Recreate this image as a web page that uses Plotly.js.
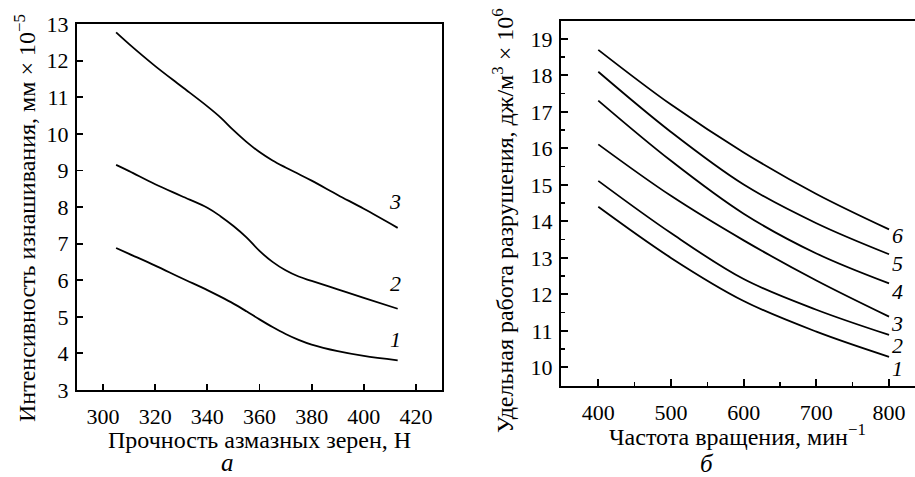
<!DOCTYPE html>
<html>
<head>
<meta charset="utf-8">
<script src="https://cdn.plot.ly/plotly-3.0.1.min.js"></script>
<style>html,body{margin:0;padding:0;background:#fff;}#chart{width:915px;height:477px;}</style>
</head>
<body>
<div id="chart"></div>
<script>
// Chart a: wear intensity vs grain strength
const strengthN = [305,310,320,330,340,345,350,355,360,365,370,375,380,390,400,413];
const wear1 = [6.88,6.72,6.40,6.06,5.73,5.55,5.36,5.15,4.93,4.72,4.53,4.37,4.24,4.06,3.93,3.81];
const wear2 = [9.15,8.98,8.62,8.30,7.98,7.75,7.48,7.17,6.80,6.50,6.27,6.10,5.98,5.75,5.52,5.22];
const wear3 = [12.77,12.45,11.85,11.30,10.75,10.45,10.10,9.78,9.50,9.27,9.08,8.90,8.72,8.33,7.95,7.43];
const wearLabels = ["1","2","3"];

// Chart b: specific fracture work vs rotation frequency
const freq = [400,500,600,700,800];
const work1 = [14.40,13.00,11.82,10.98,10.29];
const work2 = [15.11,13.68,12.42,11.58,10.89];
const work3 = [16.11,14.70,13.48,12.38,11.39];
const work4 = [17.31,15.66,14.21,13.12,12.30];
const work5 = [18.10,16.45,15.01,13.95,13.10];
const work6 = [18.70,17.20,15.89,14.75,13.78];
const workLabels = ["1","2","3","4","5","6"];

const titleA_x = "Прочность азмазных зерен, Н";
const titleA_y = "Интенсивность изнашивания, мм × 10<sup>−5</sup>";
const titleB_x = "Частота вращения, мин<sup>−1</sup>";
const titleB_y = "Удельная работа разрушения, дж/м<sup>3</sup> × 10<sup>6</sup>";
const panelA = "а", panelB = "б";

const FONT = "Liberation Serif";
const lineStyle = {color:"#000", width:1.8, shape:"spline", smoothing:1};

const traces = [];
[wear1,wear2,wear3].forEach((y,i)=>{
  traces.push({x:strengthN, y:y, type:"scatter", mode:"lines", line:lineStyle, xaxis:"x", yaxis:"y", name:wearLabels[i], showlegend:false, hoverinfo:"skip"});
});
[work1,work2,work3,work4,work5,work6].forEach((y,i)=>{
  traces.push({x:freq, y:y, type:"scatter", mode:"lines", line:lineStyle, xaxis:"x2", yaxis:"y2", name:workLabels[i], showlegend:false, hoverinfo:"skip"});
});

const W = 915, H = 477;
const px = v => v / W, py = v => 1 - v / H;

const labelFont = {family:FONT, size:22, color:"#000", style:"italic"};
const titleFont = {family:FONT, size:24, color:"#000"};
const annotations = [];
const wearLabelY = [4.37, 5.92, 8.15];
wearLabels.forEach((t,i)=>annotations.push({x:412, y:wearLabelY[i], xref:"x", yref:"y", text:t, showarrow:false, xanchor:"center", yanchor:"middle", font:labelFont}));
const workLabelY = [9.97, 10.61, 11.21, 12.07, 12.85, 13.6];
workLabels.forEach((t,i)=>annotations.push({x:811, y:workLabelY[i], xref:"x2", yref:"y2", text:t, showarrow:false, xanchor:"center", yanchor:"middle", font:labelFont}));
// axis titles
annotations.push({x:px(259.5), y:py(440), xref:"paper", yref:"paper", text:titleA_x, showarrow:false, xanchor:"center", yanchor:"middle", font:titleFont});
annotations.push({x:px(737), y:py(435), xref:"paper", yref:"paper", text:titleB_x, showarrow:false, xanchor:"center", yanchor:"middle", font:titleFont});
annotations.push({x:px(25), y:py(218), xref:"paper", yref:"paper", text:titleA_y, textangle:-90, showarrow:false, xanchor:"center", yanchor:"middle", font:titleFont});
annotations.push({x:px(503), y:py(221), xref:"paper", yref:"paper", text:titleB_y, textangle:-90, showarrow:false, xanchor:"center", yanchor:"middle", font:titleFont});
// panel letters
annotations.push({x:px(227), y:py(462), xref:"paper", yref:"paper", text:panelA, showarrow:false, xanchor:"center", yanchor:"middle", font:{family:FONT,size:25,color:"#000",style:"italic"}});
annotations.push({x:px(707), y:py(463), xref:"paper", yref:"paper", text:panelB, showarrow:false, xanchor:"center", yanchor:"middle", font:{family:FONT,size:25,color:"#000",style:"italic"}});

const tickFont = {family:FONT, size:22, color:"#000"};

const layout = {
  width:W, height:H,
  margin:{l:0,r:0,t:0,b:0},
  paper_bgcolor:"#fff", plot_bgcolor:"#fff",
  showlegend:false,
  font:{family:FONT, color:"#000"},
  xaxis:{
    domain:[77/W, 442/W], range:[290,430],
    tickvals:[300,320,340,360,380,400,420],
    ticks:"inside", ticklen:6, tickwidth:1.8, tickcolor:"#000",
    showline:true, linewidth:2, linecolor:"#000", mirror:true,
    showgrid:false, zeroline:false, tickfont:tickFont, ticklabelstandoff:6,
    automargin:false
  },
  yaxis:{
    domain:[87/H, 453/H], range:[3,13],
    tickvals:[3,4,5,6,7,8,9,10,11,12,13],
    ticks:"inside", ticklen:6, tickwidth:1.8, tickcolor:"#000",
    showline:true, linewidth:2, linecolor:"#000", mirror:true,
    showgrid:false, zeroline:false, tickfont:tickFont, ticklabelstandoff:2,
    automargin:false
  },
  xaxis2:{
    domain:[561/W, 1], range:[348.7,835.7], anchor:"y2",
    tickvals:[400,500,600,700,800],
    ticks:"inside", ticklen:7, tickwidth:1.8, tickcolor:"#000",
    minor:{dtick:50, tick0:0, ticks:"inside", ticklen:4, tickwidth:1.5, tickcolor:"#000"},
    showline:true, linewidth:2, linecolor:"#000", mirror:true,
    showgrid:false, zeroline:false, tickfont:tickFont, ticklabelstandoff:6,
    automargin:false
  },
  yaxis2:{
    domain:[91/H, 456/H], range:[9.49,19.49], anchor:"x2",
    tickvals:[10,11,12,13,14,15,16,17,18,19],
    ticks:"inside", ticklen:7, tickwidth:1.8, tickcolor:"#000",
    minor:{dtick:0.5, tick0:0, ticks:"inside", ticklen:4, tickwidth:1.5, tickcolor:"#000"},
    showline:true, linewidth:2, linecolor:"#000",
    showgrid:false, zeroline:false, tickfont:tickFont, ticklabelstandoff:2,
    automargin:false
  },
  annotations:annotations
};

Plotly.newPlot("chart", traces, layout, {staticPlot:true, displayModeBar:false});
</script>
</body>
</html>
